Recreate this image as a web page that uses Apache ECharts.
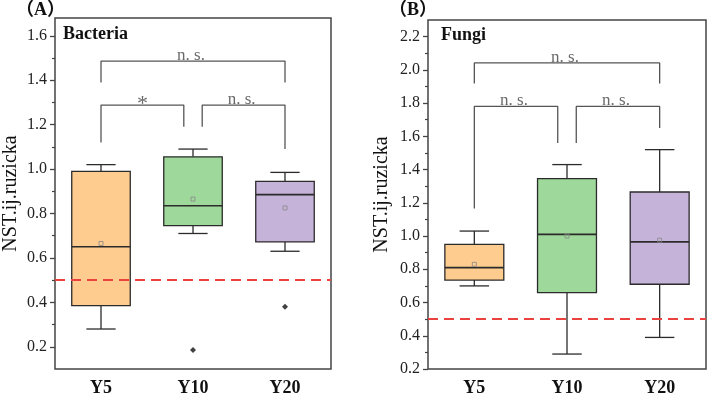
<!DOCTYPE html>
<html><head><meta charset="utf-8">
<script src="https://cdn.jsdelivr.net/npm/echarts@6/dist/echarts.min.js"></script>
<style>html,body{margin:0;padding:0;background:#fff}#c{width:709px;height:397px}</style>
</head><body><div id="c"></div>
<script>
const categories = ['Y5', 'Y10', 'Y20'];
// box statistics: [min whisker, Q1, median, Q3, max whisker]
const bacteriaBox = [[0.28, 0.385, 0.65, 0.99, 1.02], [0.71, 0.745, 0.835, 1.055, 1.09], [0.63, 0.672, 0.885, 0.945, 0.985]];
const bacteriaMean = [0.665, 0.865, 0.825];
const bacteriaOutliers = [[1, 0.185], [2, 0.38]];
const fungiBox = [[0.70, 0.735, 0.81, 0.95, 1.03], [0.29, 0.66, 1.01, 1.345, 1.43], [0.39, 0.71, 0.965, 1.265, 1.52]];
const fungiMean = [0.83, 1.0, 0.975];
const fungiOutliers = [];
const threshold = 0.5;
const bacteriaTicks = [0.2, 0.4, 0.6, 0.8, 1.0, 1.2, 1.4, 1.6];
const bacteriaMinor = [0.3, 0.5, 0.7, 0.9, 1.1, 1.3, 1.5];
const fungiTicks = [0.2, 0.4, 0.6, 0.8, 1.0, 1.2, 1.4, 1.6, 1.8, 2.0, 2.2];
const fungiMinor = [0.3, 0.5, 0.7, 0.9, 1.1, 1.3, 1.5, 1.7, 1.9, 2.1];
// significance brackets: [from, to, bar height, left leg end, right leg end, label]
const bacteriaBrackets = [[0, 2, 1.486, 1.39, 1.39, 'n. s.'], [0, 0.9, 1.288, 1.12, 1.19, '*'], [1.1, 2, 1.288, 1.19, 1.09, 'n. s.']];
const fungiBrackets = [[0, 2, 2.042, 1.918, 1.918, 'n. s.'], [0, 0.9, 1.78, 1.166, 1.56, 'n. s.'], [1.1, 2, 1.78, 1.56, 1.65, 'n. s.']];

const serif = '"Liberation Serif","Times New Roman",serif';
const boxColors = ['#fecc8f', '#9ed89b', '#c5b3d9'];
const ink = '#2b2b2b';

function boxSeries(data, xi, yi) {
  return {
    type: 'custom', xAxisIndex: xi, yAxisIndex: yi, silent: true,
    data: data.map((d, i) => [i].concat(d)),
    encode: { x: 0, y: [1, 2, 3, 4, 5] },
    renderItem: (params, api) => {
      const i = api.value(0);
      const p = [1, 2, 3, 4, 5].map(k => api.coord([i, api.value(k)]));
      const cx = p[0][0];
      const band = api.size([1, 0])[0];
      const hw = band * 0.318, cw = hw / 2;
      const ls = { stroke: ink, lineWidth: 1.3 };
      return { type: 'group', children: [
        { type: 'line', shape: { x1: cx, y1: p[0][1], x2: cx, y2: p[1][1] }, style: ls },
        { type: 'line', shape: { x1: cx, y1: p[3][1], x2: cx, y2: p[4][1] }, style: ls },
        { type: 'line', shape: { x1: cx - cw, y1: p[0][1], x2: cx + cw, y2: p[0][1] }, style: ls },
        { type: 'line', shape: { x1: cx - cw, y1: p[4][1], x2: cx + cw, y2: p[4][1] }, style: ls },
        { type: 'rect', shape: { x: cx - hw, y: p[3][1], width: 2 * hw, height: p[1][1] - p[3][1] }, style: { fill: boxColors[i], stroke: ink, lineWidth: 1.3 } },
        { type: 'line', shape: { x1: cx - hw, y1: p[2][1], x2: cx + hw, y2: p[2][1] }, style: { stroke: ink, lineWidth: 1.6 } }
      ] };
    }
  };
}

function bracketSeries(brackets, xi, yi) {
  const out = [];
  brackets.forEach(b => {
    out.push({ type: 'line', xAxisIndex: xi, yAxisIndex: yi, silent: true, symbol: 'none',
      data: [[b[0], b[3]], [b[0], b[2]], [b[1], b[2]], [b[1], b[4]]],
      lineStyle: { color: '#555', width: 1.3 } });
  });
  out.push({ type: 'scatter', xAxisIndex: xi, yAxisIndex: yi, silent: true, symbolSize: 0,
    data: brackets.map(b => ({ value: [(b[0] + b[1]) / 2, b[2]], name: b[5],
      label: b[5] === '*' ? { fontSize: 22, offset: [0, 10] } : {} })),
    label: { show: true, position: 'top', distance: 0, offset: [-2, 3], formatter: p => p.name,
      fontFamily: serif, fontSize: 17, color: '#444' } });
  return out;
}

function meanSeries(means, xi, yi) {
  return { type: 'scatter', xAxisIndex: xi, yAxisIndex: yi, silent: true, symbol: 'rect', symbolSize: 4,
    data: means.map((m, i) => [i, m]), z: 5,
    itemStyle: { color: 'rgba(0,0,0,0)', borderColor: '#888', borderWidth: 1 },
    markLine: { silent: true, symbol: 'none', label: { show: false },
      lineStyle: { color: '#e8433f', width: 2, type: [10, 6] },
      data: [{ yAxis: threshold }] } };
}

function outlierSeries(pts, xi, yi) {
  return { type: 'scatter', xAxisIndex: xi, yAxisIndex: yi, silent: true, symbol: 'diamond', symbolSize: 6,
    data: pts, itemStyle: { color: '#111' }, z: 5 };
}

function catAxis(gi) {
  return { gridIndex: gi, type: 'category', data: categories,
    axisLine: { show: false, onZero: false },
    axisTick: { alignWithLabel: true, length: 4, lineStyle: { color: '#444', width: 1.3 } },
    axisLabel: { fontFamily: serif, fontSize: 18, fontWeight: 'bold', color: '#111', margin: 10 } };
}
function hiddenX(gi) {
  return { gridIndex: gi, type: 'value', min: -0.5, max: 2.5, show: false, axisLine: { onZero: false } };
}
function mainY(gi, min, max, ticks, gap) {
  return { gridIndex: gi, type: 'value', min: min, max: max, position: 'left',
    name: 'NST.ij.ruzicka', nameLocation: 'middle', nameGap: gap,
    nameTextStyle: { fontFamily: serif, fontSize: 20, color: '#111' },
    axisLine: { show: false, onZero: false }, splitLine: { show: false },
    axisTick: { show: true, customValues: ticks, length: 5, lineStyle: { color: '#444', width: 1.3 } },
    axisLabel: { customValues: ticks, formatter: v => v.toFixed(1), fontFamily: serif, fontSize: 16, color: '#222', margin: 8 } };
}
function minorY(gi, min, max, ticks) {
  return { gridIndex: gi, type: 'value', min: min, max: max, position: 'left',
    axisLine: { show: false, onZero: false }, splitLine: { show: false }, axisLabel: { show: false },
    axisTick: { show: true, customValues: ticks, length: 3, lineStyle: { color: '#444', width: 1.2 } } };
}

const chart = echarts.init(document.getElementById('c'));
chart.setOption({
  backgroundColor: '#fff',
  animation: false,
  grid: [
    { left: 53, top: 18, width: 278, height: 352, show: true, borderColor: '#444', borderWidth: 1.5, backgroundColor: 'transparent' },
    { left: 428, top: 20, width: 278, height: 350, show: true, borderColor: '#444', borderWidth: 1.5, backgroundColor: 'transparent' }
  ],
  xAxis: [catAxis(0), hiddenX(0), catAxis(1), hiddenX(1)],
  yAxis: [
    mainY(0, 0.1, 1.68, bacteriaTicks, 34), minorY(0, 0.1, 1.68, bacteriaMinor),
    mainY(1, 0.2, 2.3, fungiTicks, 36), minorY(1, 0.2, 2.3, fungiMinor)
  ],
  graphic: [
    { type: 'text', left: 16, top: 1, style: { text: '（A）', fontFamily: serif + ',"Noto Sans CJK SC"', fontSize: 18, fontWeight: 'bold', fill: '#111' } },
    { type: 'text', left: 389, top: 1, style: { text: '（B）', fontFamily: serif + ',"Noto Sans CJK SC"', fontSize: 18, fontWeight: 'bold', fill: '#111' } },
    { type: 'text', left: 63, top: 25, style: { text: 'Bacteria', fontFamily: serif, fontSize: 18, fontWeight: 'bold', fill: '#111' } },
    { type: 'text', left: 441, top: 26, style: { text: 'Fungi', fontFamily: serif, fontSize: 18, fontWeight: 'bold', fill: '#111' } }
  ],
  series: [
    boxSeries(bacteriaBox, 0, 0),
    meanSeries(bacteriaMean, 0, 0),
    outlierSeries(bacteriaOutliers, 0, 0),
    ...bracketSeries(bacteriaBrackets, 1, 0),
    boxSeries(fungiBox, 2, 2),
    meanSeries(fungiMean, 2, 2),
    outlierSeries(fungiOutliers, 2, 2),
    ...bracketSeries(fungiBrackets, 3, 2)
  ]
});
</script>
</body></html>
